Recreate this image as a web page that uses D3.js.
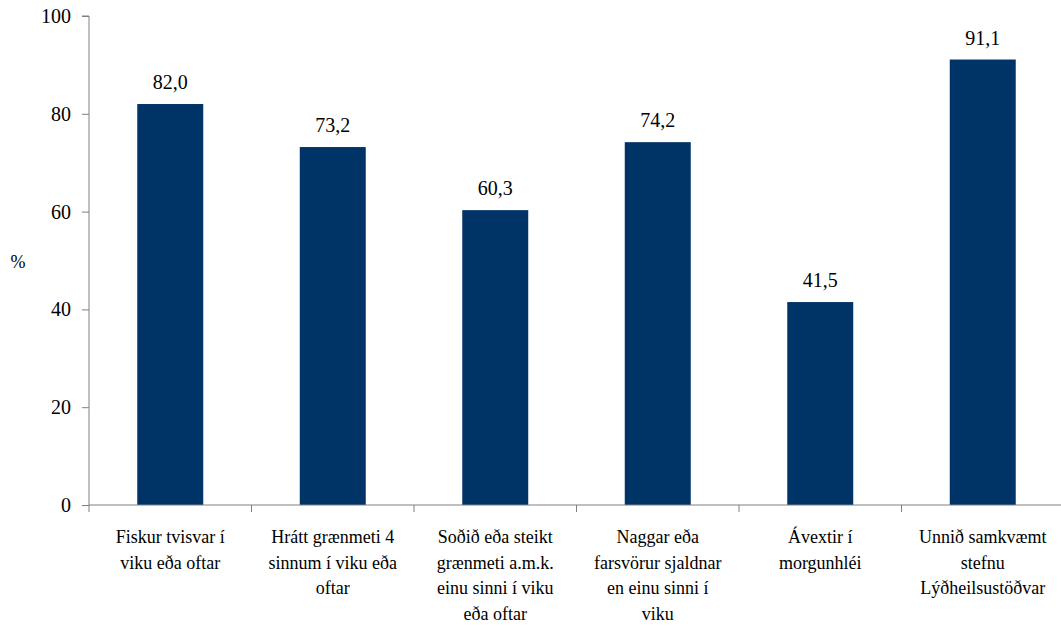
<!DOCTYPE html>
<html>
<head>
<meta charset="utf-8">
<script src="https://cdn.jsdelivr.net/npm/d3@7"></script>
<style>
  body { margin: 0; background: #fff; }
</style>
</head>
<body>
<script>
// chart data
var categories = [
    ["Fiskur tvisvar í", "viku eða oftar"],
    ["Hrátt grænmeti 4", "sinnum í viku eða", "oftar"],
    ["Soðið eða steikt", "grænmeti a.m.k.", "einu sinni í viku", "eða oftar"],
    ["Naggar eða", "farsvörur sjaldnar", "en einu sinni í", "viku"],
    ["Ávextir í", "morgunhléi"],
    ["Unnið samkvæmt", "stefnu", "Lýðheilsustöðvar"]
];
var values = [82.0, 73.2, 60.3, 74.2, 41.5, 91.1];
var yTicks = [0, 20, 40, 60, 80, 100];

var serif = "'Liberation Serif', 'Times New Roman', Tinos, 'DejaVu Serif', serif";

window.onload = drawChart();

function drawChart(){
    var width = 1061,
        height = 626;
    var margin = {top: 16, right: -3, bottom: 121, left: 89};

    var svg = d3.select("body")
        .append("svg")
        .attr("width", width)
        .attr("height", height)
        .attr("font-family", serif);

    var g = svg.append("g")
        .attr("transform", "translate(" + margin.left + "," + margin.top + ")");

    var w = width - margin.left - margin.right,
        h = height - margin.top - margin.bottom;

    var x = d3.scaleBand()
        .domain(d3.range(categories.length))
        .range([0, w])
        .paddingInner(0.594)
        .paddingOuter(0.297);

    var xOuter = d3.scaleBand()
        .domain(d3.range(categories.length))
        .range([0, w]);

    var y = d3.scaleLinear()
        .domain([0, 100])
        .range([h, 0]);

    //bars
    g.selectAll(".bar")
        .data(values)
        .enter()
        .append("rect")
        .attr("class", "bar")
        .attr("x", function(d, i){ return x(i); })
        .attr("y", function(d){ return y(d); })
        .attr("width", x.bandwidth())
        .attr("height", function(d){ return h - y(d); })
        .attr("fill", "#003366");

    //value labels
    g.selectAll(".val")
        .data(values)
        .enter()
        .append("text")
        .attr("class", "val")
        .attr("x", function(d, i){ return x(i) + x.bandwidth() / 2; })
        .attr("y", function(d){ return y(d) - 15; })
        .attr("text-anchor", "middle")
        .attr("font-family", serif)
        .attr("font-size", 20)
        .text(function(d){ return d.toFixed(1).replace(".", ","); });

    //y axis
    var yAxis = g.append("g")
        .call(d3.axisLeft(y).tickValues(yTicks).tickSize(7).tickPadding(11));
    yAxis.attr("font-family", serif).attr("font-size", 20);
    yAxis.selectAll("line, path").attr("stroke", "#808080");
    yAxis.select(".domain").attr("d", "M-7," + y(100) + "H0V" + h);
    yAxis.selectAll("text").attr("fill", "#000");

    //x axis line and boundary ticks
    var xAxis = g.append("g").attr("transform", "translate(0," + h + ")");
    xAxis.append("line")
        .attr("x1", 0).attr("x2", w)
        .attr("stroke", "#808080");
    xAxis.selectAll(".xt")
        .data(d3.range(categories.length + 1))
        .enter()
        .append("line")
        .attr("x1", function(d){ return d < categories.length ? xOuter(d) : w; })
        .attr("x2", function(d){ return d < categories.length ? xOuter(d) : w; })
        .attr("y1", 0).attr("y2", 7)
        .attr("stroke", "#808080");

    //category labels
    var labels = xAxis.selectAll(".cat")
        .data(categories)
        .enter()
        .append("text")
        .attr("class", "cat")
        .attr("text-anchor", "middle")
        .attr("transform", function(d, i){
            return "translate(" + (xOuter(i) + xOuter.bandwidth() / 2) + ",38)";
        })
        .attr("font-family", serif)
        .attr("font-size", 18);
    labels.selectAll("tspan")
        .data(function(d){ return d; })
        .enter()
        .append("tspan")
        .attr("x", 0)
        .attr("dy", function(d, j){ return j === 0 ? 0 : 25.7; })
        .text(function(d){ return d; });

    //y title
    svg.append("text")
        .attr("x", 18)
        .attr("y", 268)
        .attr("text-anchor", "middle")
        .attr("font-family", serif)
        .attr("font-size", 18)
        .text("%");
}
</script>
</body>
</html>
